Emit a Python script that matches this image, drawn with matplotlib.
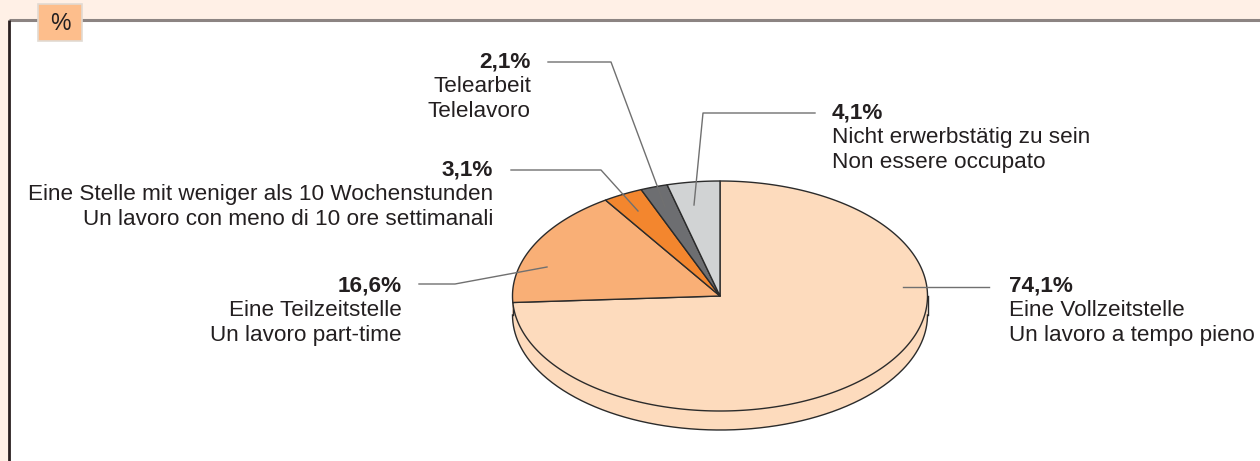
import numpy as np
import matplotlib
matplotlib.use("Agg")
import matplotlib.pyplot as plt
from matplotlib.patches import Polygon, Rectangle

# ---- data ----
values = [74.1, 16.6, 3.1, 2.1, 4.1]
pct_labels = ["74,1%", "16,6%", "3,1%", "2,1%", "4,1%"]
label_de = ["Eine Vollzeitstelle", "Eine Teilzeitstelle",
            "Eine Stelle mit weniger als 10 Wochenstunden",
            "Telearbeit", "Nicht erwerbstätig zu sein"]
label_it = ["Un lavoro a tempo pieno", "Un lavoro part-time",
            "Un lavoro con meno di 10 ore settimanali",
            "Telelavoro", "Non essere occupato"]
colors = ["#FDDBBD", "#F9AF76", "#F3862E", "#6D6E71", "#D1D3D4"]

plt.rcParams['font.family'] = ['Liberation Sans', 'DejaVu Sans']

W, H = 1260, 461
fig = plt.figure(figsize=(W / 100, H / 100), dpi=100)
fig.patch.set_facecolor("#FFF0E6")
ax = fig.add_axes([0, 0, 1, 1])
ax.set_xlim(0, W)
ax.set_ylim(H, 0)
ax.axis("off")

# panel
ax.add_patch(Rectangle((9, 20), W - 9, H - 20, facecolor="white", edgecolor="none", zorder=0))
ax.plot([9, W], [20, 20], color="#8C8482", lw=2.2, zorder=1, solid_capstyle="butt")
ax.plot([9, 9], [20, H], color="#2A2020", lw=2.0, zorder=1, solid_capstyle="butt")
ax.add_patch(Rectangle((38, 4), 44, 37, facecolor="#FDBE8C", edgecolor="#E2DAD2", lw=1.2, zorder=2))
ax.text(60, 23.5, "%", ha="center", va="center", fontsize=16.5, color="#231F20", zorder=3)

# ---- 3D pie ----
cx, cy, a, b, depth = 720, 296, 207.5, 115, 19
edge = "#2B2B2B"

def pt(theta_deg, dy=0.0):
    t = np.radians(theta_deg)
    return cx + a * np.cos(t), cy - b * np.sin(t) + dy

total = sum(values)
starts, ends = [], []
ang = 90.0
for v in values:
    e = ang - v / total * 360.0
    starts.append(ang)
    ends.append(e)
    ang = e

# side walls (visible lower half: theta in (-180, 0))
for s, e, c in zip(starts, ends, colors):
    lo, hi = e, s
    for shift in (0, 360, -360):
        l2, h2 = lo + shift, hi + shift
        l3, h3 = max(l2, -180), min(h2, 0)
        if h3 > l3:
            th = np.linspace(l3, h3, 100)
            top = np.array([pt(t) for t in th])
            bot = np.array([pt(t, depth) for t in th[::-1]])
            poly = np.vstack([top, bot])
            ax.add_patch(Polygon(poly, closed=True, facecolor=c, edgecolor="none", zorder=4))

# bottom outline and side verticals
th = np.linspace(-180, 0, 300)
bo = np.array([pt(t, depth) for t in th])
ax.plot(bo[:, 0], bo[:, 1], color=edge, lw=1.0, zorder=5)
for t in (-180, 0):
    x0, y0 = pt(t)
    ax.plot([x0, x0], [y0, y0 + depth], color=edge, lw=1.0, zorder=5)

# top wedges
for s, e, c in zip(starts, ends, colors):
    th = np.linspace(s, e, max(int(abs(s - e) * 2), 10))
    arc = np.array([pt(t) for t in th])
    poly = np.vstack([[cx, cy], arc])
    ax.add_patch(Polygon(poly, closed=True, facecolor=c, edgecolor=edge, lw=1.0,
                         joinstyle="round", zorder=6))

# ---- labels ----
txt = "#231F20"
lead = "#707070"
fs = 16.2
line_h = 24.8

def label(i, x, y, ha):
    ax.text(x, y, pct_labels[i], ha=ha, va="center", fontsize=fs, fontweight="bold", color=txt, zorder=8)
    ax.text(x, y + line_h, label_de[i], ha=ha, va="center", fontsize=fs, color=txt, zorder=8)
    ax.text(x, y + 2 * line_h, label_it[i], ha=ha, va="center", fontsize=fs, color=txt, zorder=8)

def leader(points):
    p = np.array(points, dtype=float)
    ax.plot(p[:, 0], p[:, 1], color=lead, lw=1.0, zorder=7)

# 74,1%
label(0, 1009, 286, "left")
leader([(989, 287), (903, 287)])
# 16,6%
label(1, 402, 286, "right")
leader([(419, 284), (455, 284), (547, 267)])
# 3,1%
label(2, 493, 170, "right")
leader([(511, 170), (601, 170), (638, 211)])
# 2,1%
label(3, 531, 62, "right")
leader([(548, 62), (611, 62), (665, 207)])
# 4,1%
label(4, 832, 113, "left")
leader([(815, 113), (703, 113), (694, 205)])

fig.savefig("out.png", dpi=100, facecolor=fig.get_facecolor())
